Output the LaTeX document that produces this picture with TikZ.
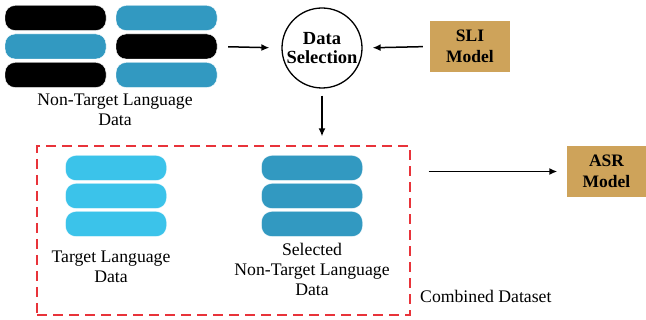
\documentclass[tikz,border=0pt]{standalone}
\usepackage{fontspec}
\setmainfont{Liberation Serif}
\usetikzlibrary{arrows.meta}
\definecolor{barblue}{RGB}{50,153,193}
\definecolor{barcyan}{RGB}{59,195,234}
\definecolor{gold}{RGB}{206,163,90}
\definecolor{dashred}{RGB}{232,51,58}
\begin{document}
\begin{tikzpicture}[x=1pt,y=-1pt,
  bar/.style={minimum width=101pt,minimum height=25pt,rounded corners=10pt,inner sep=0pt,draw=white,line width=0.4pt},
  lbl/.style={font=\fontsize{17.7}{20}\selectfont,align=center,inner sep=0pt},
  modelbox/.style={fill=gold,minimum width=80pt,minimum height=51pt,inner sep=0pt,align=center,font=\fontsize{17.5}{21}\selectfont\bfseries},
  arr/.style={line width=1.5pt,-{Latex[length=8pt,width=7pt]}}]
\useasboundingbox (0,0) rectangle (646,320);
% non-target bars
\node[bar,fill=black]    (l1) at (55.5,18) {};
\node[bar,fill=barblue]  (l2) at (55.5,46.5) {};
\node[bar,fill=black]    (l3) at (55.5,75) {};
\node[bar,fill=barblue]  (r1) at (166.5,18) {};
\node[bar,fill=black]    (r2) at (166.5,46.5) {};
\node[bar,fill=barblue]  (r3) at (166.5,75) {};
\node[lbl] (ntl) at (115,110) {Non-Target Language\\Data};
% data selection
\node[draw,circle,line width=1.3pt,minimum size=80pt,inner sep=0pt,align=center,
      font=\fontsize{18.5}{19.5}\selectfont\bfseries] (ds) at (322,48) {Data\\Selection};
\node[modelbox] (sli) at (470,46.5) {SLI\\Model};
% combined
\node[draw=dashred,dash pattern=on 10pt off 6pt,line width=1.3pt,minimum width=373pt,minimum height=169pt,inner sep=0pt] (comb) at (223.5,230.5) {};
\node[bar,fill=barcyan] (t1) at (116,168) {};
\node[bar,fill=barcyan] (t2) at (116,196) {};
\node[bar,fill=barcyan] (t3) at (116,224) {};
\node[lbl] (tl) at (111,267) {Target Language\\Data};
\node[bar,fill=barblue] (s1) at (312,168) {};
\node[bar,fill=barblue] (s2) at (312,196) {};
\node[bar,fill=barblue] (s3) at (312,224) {};
\node[lbl] (sl) at (312,269.5) {Selected\\Non-Target Language\\Data};
\node[lbl,anchor=west] (cd) at (420,296) {Combined Dataset};
\node[modelbox] (asr) at (606.5,171.5) {ASR\\Model};
% connectors
\draw[arr,shorten <=11pt,shorten >=12pt] (r2.east) -- (ds.west);
\draw[arr,shorten <=7pt,shorten >=10pt] (sli.west) -- (ds.east);
\coordinate (ct) at (ds.south |- comb.north);
\draw[arr,shorten <=7pt,shorten >=9pt] (ds.south) -- (ct);
\coordinate (ce) at (comb.east |- asr.west);
\draw[arr,shorten <=18pt,shorten >=9pt] (ce) -- (asr.west);
\end{tikzpicture}
\end{document}
